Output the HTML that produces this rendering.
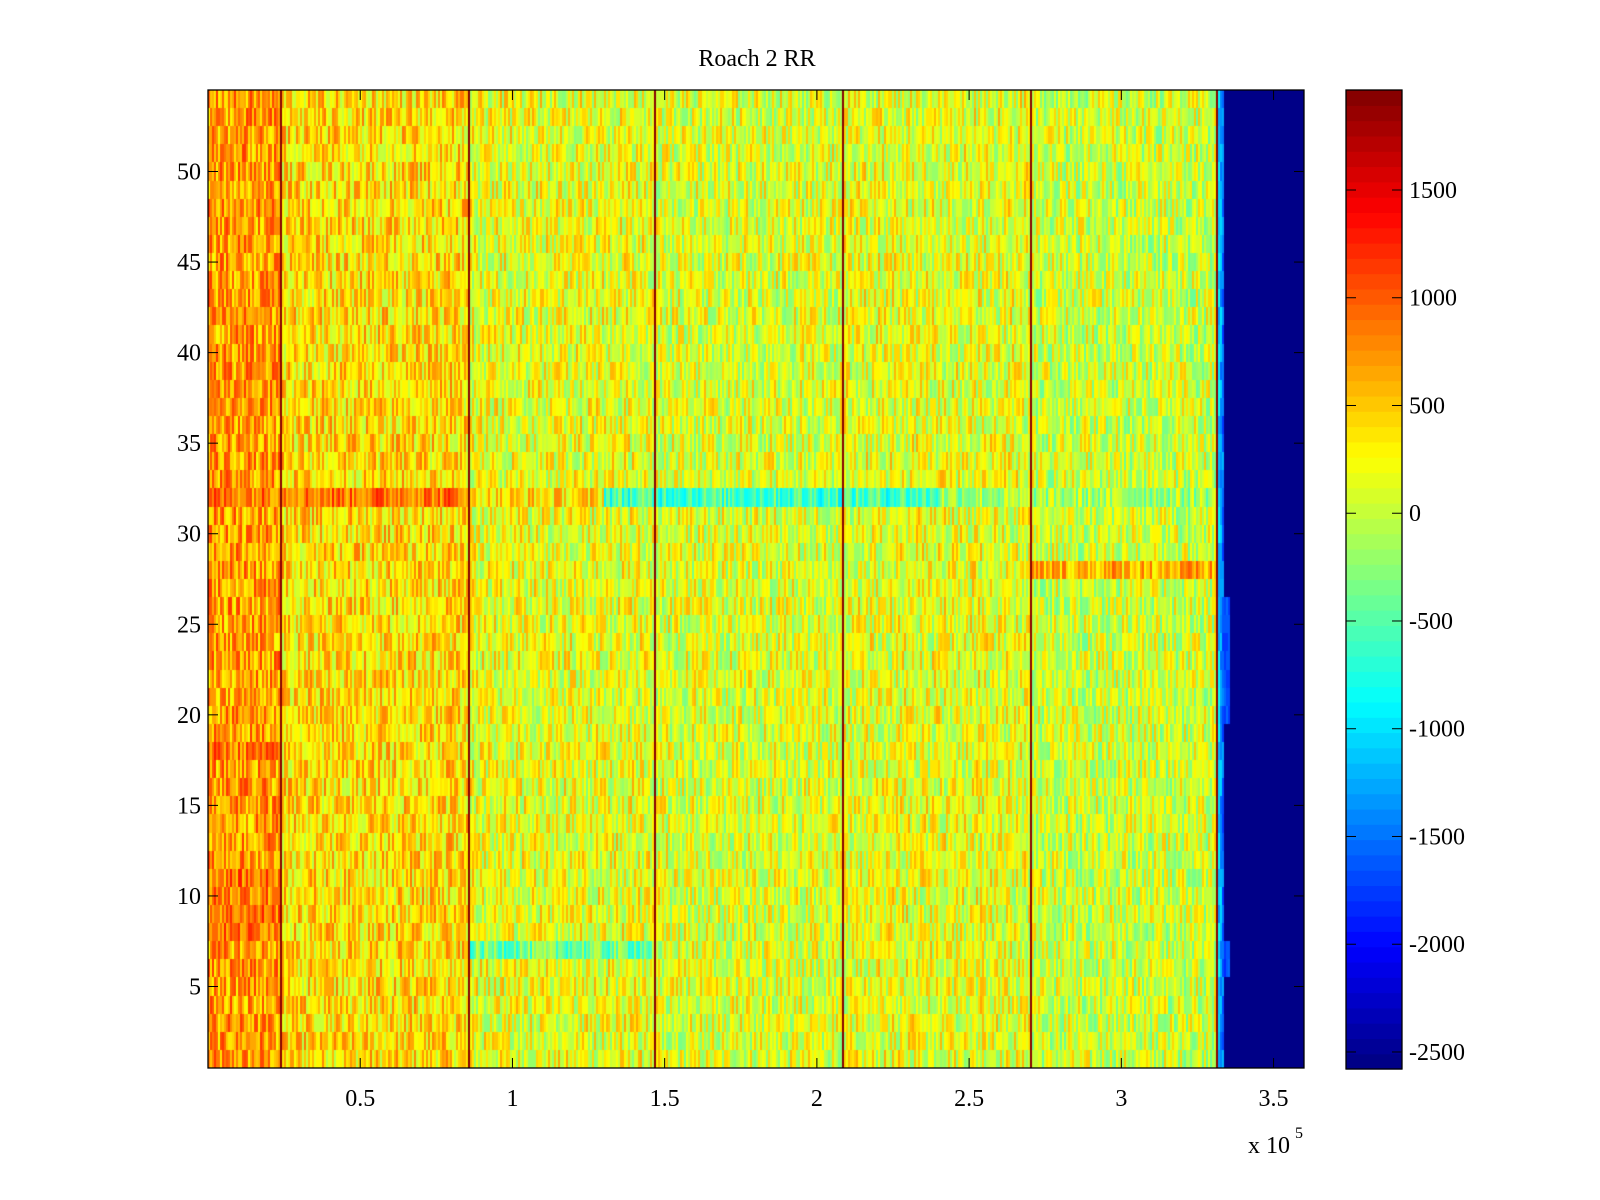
<!DOCTYPE html>
<html><head><meta charset="utf-8">
<style>
html,body{margin:0;padding:0;background:#fff;width:1600px;height:1200px;overflow:hidden}
#hm{position:absolute;left:208px;top:90px}
svg{position:absolute;left:0;top:0}
text{font-family:"Liberation Serif",serif;fill:#000}
</style></head>
<body>
<canvas id="hm" width="1096" height="978"></canvas>
<svg id="svg" width="1600" height="1200"></svg>
<script>
// ---- data ----
const xRange = [0, 3.6];            // x axis, units of 1e5
const yRange = [0.5, 54.5];         // y axis rows
const cRange = [-2579, 1964];       // colour limits
const xTicks = [0.5,1,1.5,2,2.5,3,3.5];
const yTicks = [5,10,15,20,25,30,35,40,45,50];
const cTicks = [-2500,-2000,-1500,-1000,-500,0,500,1000,1500];
const bandEdges = [0, 0.237, 0.856, 1.468, 2.084, 2.699, 3.313, 3.34, 3.6];
const bandBase  = [700, 400, 170, 110, 160, 40, -1100, -2579];
const darkLines = [0.237, 0.856, 1.468, 2.084, 2.699, 3.313];
const darkValue = 1900;
const anomRow = [32, 32, 32, 32, 28, 7, 9, 10, 11, 8, 18];
const anomX0  = [0, 0.86, 1.3, 2.4, 2.7, 0.86, 0, 0, 0, 0, 0];
const anomX1  = [0.86, 1.3, 2.4, 3.31, 3.31, 1.5, 0.237, 0.237, 0.237, 0.237, 0.237];
const anomVal = [900, 400, -550, -150, 600, -380, 900, 850, 880, 900, 850];
const edgeRowsExtra = [20,21,22,23,24,25,26,6,7];

const W=1096,H=978,L=208,T=90;
const sx=v=>L+(v-xRange[0])/(xRange[1]-xRange[0])*W;
const sy=v=>T+(yRange[1]-v)/(yRange[1]-yRange[0])*H;
function jet(v){
  let t=(v-cRange[0])/(cRange[1]-cRange[0]);t=Math.max(0,Math.min(0.9999,t));
  t=(Math.floor(t*64)+0.5)/64;
  const c=x=>Math.round(255*Math.max(0,Math.min(1,x)));
  return [c(1.5-Math.abs(4*t-3)),c(1.5-Math.abs(4*t-2)),c(1.5-Math.abs(4*t-1))];
}
// deterministic texture generator
let seed=12345;function rnd(){seed=(seed*1103515245+12345)&0x7fffffff;return seed/0x7fffffff;}

const ctx=document.getElementById('hm').getContext('2d');
const img=ctx.createImageData(W,H);
const colW=2;
for(let r=1;r<=54;r++){
  const y0=Math.round(sy(r+0.5)-T),y1=Math.round(sy(r-0.5)-T);
  for(let cx=0;cx<W;cx+=colW){
    const xv=xRange[0]+(cx+1)/W*(xRange[1]-xRange[0]);
    let b=0;while(b<bandBase.length-1&&xv>=bandEdges[b+1])b++;
    let v=bandBase[b];
    const noise=(rnd()-0.5)*950;
    if(b<6) v+=noise;
    else if(b===6){v=-800-(xv-3.313)/0.027*900+noise*0.6;}
    if(edgeRowsExtra.includes(r)&&xv>=3.34&&xv<3.355) v=-1700+noise*0.3;
    for(let a=0;a<anomRow.length;a++){
      if(anomRow[a]===r&&xv>=anomX0[a]&&xv<anomX1[a]) v=anomVal[a]+noise*0.9;
    }
    for(const d of darkLines){ if(Math.abs(sx(d)-L-cx)<=1) v=darkValue; }
    const [R,G,B]=jet(v);
    for(let yy=y0;yy<y1;yy++)for(let xx=cx;xx<cx+colW&&xx<W;xx++){
      const i=(yy*W+xx)*4;img.data[i]=R;img.data[i+1]=G;img.data[i+2]=B;img.data[i+3]=255;}
  }
}
ctx.putImageData(img,0,0);

const NS='http://www.w3.org/2000/svg',svg=document.getElementById('svg');
function el(t,a,txt){const e=document.createElementNS(NS,t);for(const k in a)e.setAttribute(k,a[k]);if(txt!==undefined)e.textContent=txt;svg.appendChild(e);return e;}
let e;
e=el('rect',{x:L,y:T,width:W,height:H,fill:'none',stroke:'#000','stroke-width':1.3});


e=el('text',{x:757,y:66,'font-size':24,'text-anchor':'middle'},'Roach 2 RR');


xTicks.forEach(t=>{const x=sx(t);
  el('line',{x1:x,x2:x,y1:T+H,y2:T+H-10,stroke:'#000'});
  el('line',{x1:x,x2:x,y1:T,y2:T+10,stroke:'#000'});
  e=el('text',{x:x,y:1106,'font-size':24,'text-anchor':'middle'},String(t));
  
  
});
e=el('text',{x:1248,y:1153,'font-size':24},'x 10');


el('text',{x:1295,y:1138,'font-size':16},'5');
yTicks.forEach(t=>{const y=sy(t);
  el('line',{x1:L,x2:L+10,y1:y,y2:y,stroke:'#000'});
  el('line',{x1:L+W,x2:L+W-10,y1:y,y2:y,stroke:'#000'});
  e=el('text',{x:201,y:y+8,'font-size':24,'text-anchor':'end'},String(t));
  
  
});
// colorbar
const cbL=1346,cbW=56,cbT=90,cbH=979;
const cy=v=>cbT+(cRange[1]-v)/(cRange[1]-cRange[0])*cbH;
for(let i=0;i<64;i++){
  const v0=cRange[0]+i/64*(cRange[1]-cRange[0]),v1=cRange[0]+(i+1)/64*(cRange[1]-cRange[0]);
  const [R,G,B]=jet((v0+v1)/2);
  e=el('rect',{x:cbL,y:cy(v1),width:cbW,height:cy(v0)-cy(v1)+0.6,fill:`rgb(${R},${G},${B})`});
  
  
}
e=el('rect',{x:cbL,y:cbT,width:cbW,height:cbH,fill:'none',stroke:'#000','stroke-width':1.3});


cTicks.forEach(t=>{const y=cy(t);
  el('line',{x1:cbL,x2:cbL+10,y1:y,y2:y,stroke:'#000'});
  el('line',{x1:cbL+cbW,x2:cbL+cbW-10,y1:y,y2:y,stroke:'#000'});
  e=el('text',{x:1409,y:y+8,'font-size':24},String(t));
  
  
});
</script>
</body></html>
